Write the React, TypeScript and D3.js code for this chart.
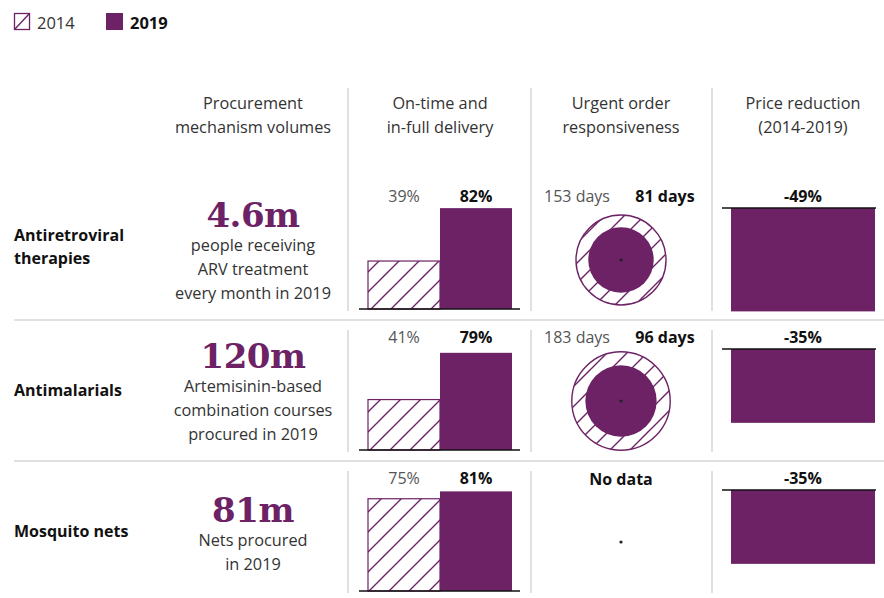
import React from "react";
import * as d3 from "d3";

const legendLabels = ["2014", "2019"];
const headers = [
  ["Procurement", "mechanism volumes"],
  ["On-time and", "in-full delivery"],
  ["Urgent order", "responsiveness"],
  ["Price reduction", "(2014-2019)"],
];
const rowLabels = [["Antiretroviral", "therapies"], ["Antimalarials"], ["Mosquito nets"]];
const volumes = ["4.6m", "120m", "81m"];
const volumeNotes = [
  ["people receiving", "ARV treatment", "every month in 2019"],
  ["Artemisinin-based", "combination courses", "procured in 2019"],
  ["Nets procured", "in 2019"],
];
const onTime2014 = [39, 41, 75];
const onTime2019 = [82, 79, 81];
const urgent2014: (number | null)[] = [153, 183, null];
const urgent2019: (number | null)[] = [81, 96, null];
const priceReduction = [-49, -35, -35];

const PURPLE = "#6c2265";
const FONT = "'Open Sans', sans-serif";
const GRID = "#d6d6d6";

export default function App() {
  const W = 884, H = 598;
  const rowTop = d3.scaleLinear().domain([0, 1]).range([179, 320]);
  const barH = d3.scaleLinear().domain([0, 100]).range([0, 123]);
  const barX = d3.scaleBand().domain(legendLabels).range([368, 512]).paddingInner(0);
  const priceH = d3.scaleLinear().domain([0, 100]).range([0, 211]);
  const rScale = d3.scaleSqrt().domain([0, 153]).range([0, 45]);
  const colX = [253, 440, 621, 803];
  const dividers = [348, 531, 712];

  return (
    <svg width={W} height={H} style={{ position: "absolute", left: 0, top: 0, background: "#fff" }} fontFamily={FONT}>
      <defs>
        <pattern id="hatch" patternUnits="userSpaceOnUse" width={20} height={20}>
          <path d="M0,20 L20,0 M-5,5 L5,-5 M15,25 L25,15" stroke={PURPLE} strokeWidth={1.4} />
        </pattern>
      </defs>
      {/* legend */}
      <g>
        <rect x={14.5} y={13.5} width={15} height={16} fill="#fff" stroke={PURPLE} strokeWidth={1.3} />
        <line x1={14.5} y1={29.5} x2={29.5} y2={13.5} stroke={PURPLE} strokeWidth={1.3} />
        <text x={37} y={29} fontSize={16.5} fill="#333">{legendLabels[0]}</text>
        <rect x={106} y={13} width={17} height={17} fill={PURPLE} />
        <text x={130} y={29} fontSize={16.5} fontWeight={700} fill="#111">{legendLabels[1]}</text>
      </g>
      {/* headers */}
      {headers.map((h, i) => (
        <text key={i} x={colX[i]} textAnchor="middle" fontSize={16.3} fill="#333">
          {h.map((l, j) => (
            <tspan key={j} x={colX[i]} y={109 + j * 23.5}>{l}</tspan>
          ))}
        </text>
      ))}
      {/* separators */}
      {[1, 2].map((i) => (
        <line key={i} x1={14} x2={W} y1={rowTop(i)} y2={rowTop(i)} stroke={GRID} strokeWidth={1.5} />
      ))}
      {rowLabels.map((_, i) =>
        dividers.map((dx, k) => (
          <line key={`${i}-${k}`} x1={dx} x2={dx} y1={i === 0 ? 88 : rowTop(i) + 10} y2={rowTop(i) + 132} stroke={GRID} strokeWidth={1.5} />
        ))
      )}
      {rowLabels.map((lab, i) => {
        const t = rowTop(i);
        const base = t + 130;
        const notes = volumeNotes[i];
        const blockH = 24 + (notes.length - 1) * 24;
        const numY = t + 84 - blockH / 2 + (notes.length === 2 ? 1 : 0);
        const u14 = urgent2014[i];
        const u19 = urgent2019[i];
        const cy = t + 81;
        const pTop = base - 101;
        const ph = priceH(Math.abs(priceReduction[i]));
        return (
          <g key={i}>
            <text fontSize={16} fontWeight={700} fill="#111">
              {lab.map((l, j) => (
                <tspan key={j} x={14} y={t + (lab.length === 2 ? 62 + j * 23 : 76)}>{l}</tspan>
              ))}
            </text>
            <text x={colX[0]} y={numY} textAnchor="middle" fontFamily="'DejaVu Serif', serif" fontWeight={700} fontSize={34} fill={PURPLE} letterSpacing={-0.5}>
              {volumes[i]}
            </text>
            <text textAnchor="middle" fontSize={16.3} fill="#333">
              {notes.map((l, j) => (
                <tspan key={j} x={colX[0]} y={numY + 24 + j * 24}>{l}</tspan>
              ))}
            </text>
            {/* on-time bars */}
            <rect x={barX("2014")!} y={base - barH(onTime2014[i])} width={barX.bandwidth()} height={barH(onTime2014[i])} fill="url(#hatch)" stroke={PURPLE} strokeWidth={1.2} />
            <rect x={barX("2019")!} y={base - barH(onTime2019[i])} width={barX.bandwidth()} height={barH(onTime2019[i])} fill={PURPLE} />
            <line x1={359} x2={520} y1={base} y2={base} stroke="#111" strokeWidth={1.5} />
            <text x={barX("2014")! + barX.bandwidth() / 2} y={t + 23} textAnchor="middle" fontSize={16} fill="#555">{onTime2014[i]}%</text>
            <text x={barX("2019")! + barX.bandwidth() / 2} y={t + 23} textAnchor="middle" fontSize={16} fontWeight={700} fill="#111">{onTime2019[i]}%</text>
            {/* urgent circles */}
            {u14 !== null && u19 !== null ? (
              <g>
                <circle cx={colX[2]} cy={cy} r={rScale(u14)} fill="url(#hatch)" stroke={PURPLE} strokeWidth={1.4} />
                <circle cx={colX[2]} cy={cy} r={rScale(u19)} fill={PURPLE} />
                <text x={colX[2] - 44} y={t + 23} textAnchor="middle" fontSize={16} fill="#555">{u14} days</text>
                <text x={colX[2] + 44} y={t + 23} textAnchor="middle" fontSize={16} fontWeight={700} fill="#111">{u19} days</text>
              </g>
            ) : (
              <text x={colX[2]} y={t + 24} textAnchor="middle" fontSize={16} fontWeight={700} fill="#111">No data</text>
            )}
            <circle cx={colX[2]} cy={cy} r={1.6} fill="#222" />
            {/* price reduction */}
            <rect x={731} y={pTop} width={144} height={ph} fill={PURPLE} />
            <line x1={722} x2={876} y1={pTop} y2={pTop} stroke="#111" strokeWidth={1.5} />
            <text x={803} y={t + 23} textAnchor="middle" fontSize={16} fontWeight={700} fill="#111">{priceReduction[i]}%</text>
          </g>
        );
      })}
    </svg>
  );
}
